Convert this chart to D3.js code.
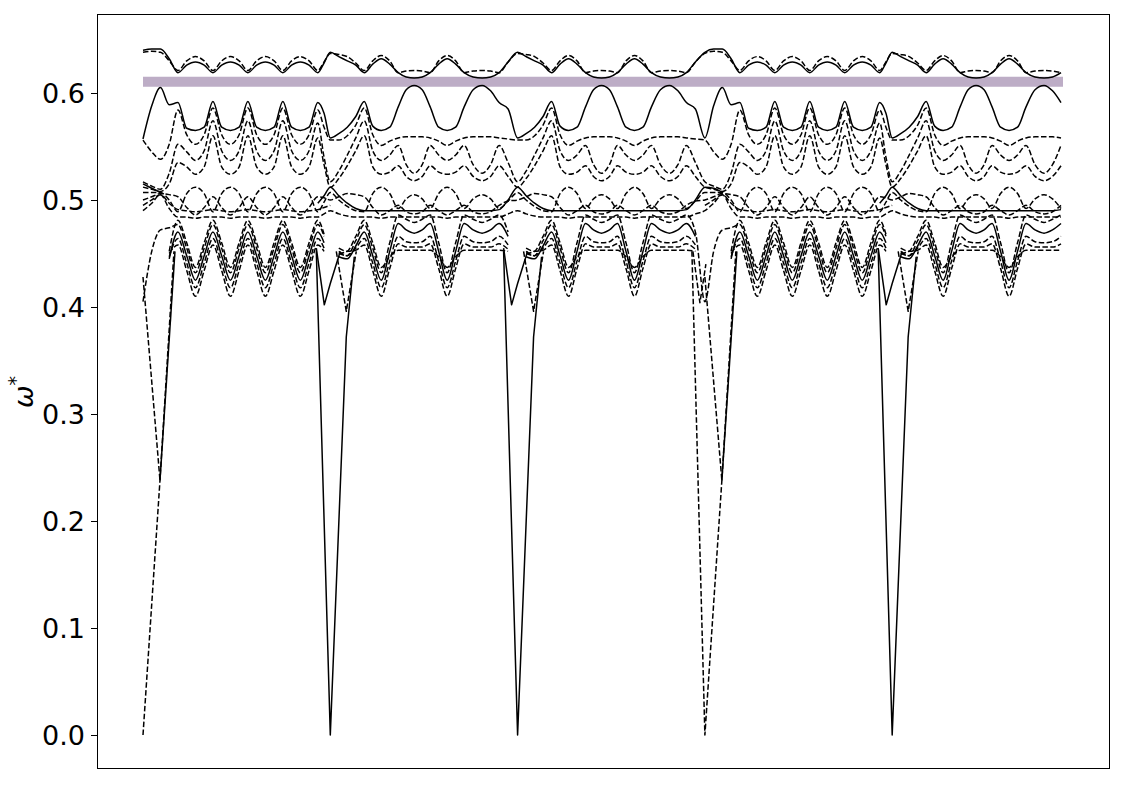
<!DOCTYPE html>
<html><head><meta charset="utf-8">
<script src="https://cdn.jsdelivr.net/npm/d3@7"></script>
<style>body{margin:0;background:#fff}</style>
</head><body><svg id="c" width="1125" height="785"></svg>
<script>
// ---- path layout: segments of the k-path (A-type / B-type), unlabeled x axis
const segTypes = ["A", "B", "B", "A", "B"];
const segLen = 187.5;
const pathLen = 921;
const offsetsA = [0, 8.75, 17.5, 26.25, 35, 43.75, 52.5, 61.25, 70, 78.75, 87.5, 96.25, 105, 113.75, 122.5, 131.25, 140, 148.75, 157.5, 166.25, 175, 181.25, 187.5];
const offsetsB = [0, 8.5, 17, 25.5, 34, 42.5, 51, 59.5, 68, 76, 84, 92, 100, 108.5, 117, 125.5, 134, 143, 152, 160.5, 169, 178, 187.5];
const yTicks = [0.0, 0.1, 0.2, 0.3, 0.4, 0.5, 0.6];
const gapLevel = 0.6105;

// ---- bands (omega* values at the nodes above)
const T1_A = [0.640,0.641,0.641,0.632,0.619,0.626,0.629,0.626,0.619,0.626,0.629,0.626,0.619,0.626,0.629,0.626,0.619,0.626,0.629,0.626,0.619,0.628,0.638];
const T1_B = [0.638,0.634,0.630,0.626,0.619,0.627,0.632,0.627,0.619,0.615,0.614,0.615,0.619,0.627,0.632,0.627,0.619,0.615,0.614,0.615,0.619,0.629,0.638];
const T2_A = [0.638,0.639,0.638,0.630,0.621,0.630,0.634,0.630,0.621,0.630,0.634,0.630,0.621,0.630,0.634,0.630,0.621,0.630,0.634,0.630,0.621,0.629,0.637];
const T2_B = [0.637,0.636,0.634,0.628,0.621,0.630,0.635,0.630,0.619,0.6205,0.621,0.6205,0.619,0.630,0.635,0.630,0.619,0.6205,0.621,0.6205,0.619,0.629,0.637];
const S1_A = [0.557,0.588,0.605,0.589,0.591,0.567,0.565,0.568,0.592,0.568,0.565,0.568,0.592,0.568,0.565,0.568,0.592,0.568,0.565,0.568,0.591,0.581,0.558];
const S1_B = [0.558,0.562,0.568,0.578,0.592,0.569,0.565,0.568,0.587,0.603,0.607,0.603,0.587,0.568,0.565,0.568,0.587,0.603,0.607,0.602,0.591,0.585,0.558];
const U1_A = [0.556,0.545,0.538,0.552,0.584,0.561,0.552,0.561,0.586,0.561,0.552,0.561,0.586,0.561,0.552,0.561,0.586,0.561,0.552,0.561,0.584,0.568,0.556];
const U1_B = [0.556,0.556,0.560,0.570,0.586,0.561,0.551,0.555,0.558,0.559,0.559,0.559,0.558,0.555,0.551,0.555,0.558,0.559,0.559,0.559,0.558,0.557,0.556];
const U2_A = [0.517,0.513,0.510,0.525,0.552,0.545,0.537,0.546,0.574,0.546,0.537,0.546,0.574,0.546,0.537,0.546,0.574,0.546,0.537,0.546,0.572,0.540,0.517];
const U2_B = [0.517,0.527,0.542,0.558,0.574,0.546,0.537,0.542,0.551,0.533,0.525,0.533,0.551,0.542,0.537,0.542,0.551,0.533,0.525,0.533,0.551,0.535,0.517];
const U3_A = [0.512,0.510,0.508,0.515,0.535,0.531,0.524,0.531,0.560,0.531,0.524,0.531,0.560,0.531,0.524,0.531,0.560,0.531,0.524,0.531,0.558,0.533,0.512];
const U3_B = [0.512,0.520,0.532,0.546,0.560,0.531,0.524,0.526,0.532,0.522,0.518,0.522,0.532,0.526,0.524,0.526,0.532,0.522,0.518,0.522,0.532,0.522,0.512];
const N1_A = [0.507,0.507,0.507,0.500,0.489,0.506,0.512,0.506,0.489,0.506,0.512,0.506,0.489,0.506,0.512,0.506,0.489,0.506,0.512,0.506,0.489,0.498,0.507];
const N1_B = [0.507,0.500,0.494,0.490,0.489,0.506,0.512,0.506,0.492,0.501,0.505,0.501,0.492,0.506,0.512,0.506,0.492,0.501,0.505,0.501,0.492,0.499,0.507];
const N2_A = [0.500,0.503,0.506,0.505,0.503,0.493,0.486,0.493,0.503,0.493,0.486,0.493,0.503,0.493,0.486,0.493,0.503,0.493,0.486,0.493,0.503,0.502,0.500];
const N2_B = [0.500,0.503,0.506,0.505,0.503,0.493,0.486,0.490,0.495,0.489,0.487,0.489,0.495,0.490,0.486,0.490,0.495,0.489,0.487,0.489,0.495,0.499,0.500];
const H1_A = [0.495,0.500,0.505,0.497,0.491,0.490,0.489,0.490,0.491,0.490,0.489,0.490,0.491,0.490,0.489,0.490,0.491,0.490,0.489,0.490,0.491,0.493,0.495];
const H2_A = [0.490,0.497,0.505,0.492,0.484,0.484,0.483,0.484,0.484,0.484,0.483,0.484,0.484,0.484,0.483,0.484,0.484,0.484,0.483,0.484,0.484,0.487,0.490];
const H2_B = [0.490,0.487,0.485,0.484,0.484,0.484,0.483,0.484,0.484,0.484,0.484,0.484,0.484,0.484,0.483,0.484,0.484,0.484,0.484,0.484,0.484,0.487,0.490];
const S2_A = [0.515,0.511,0.507,null,null,null,null,null,null,null,null,null,null,null,null,null,null,null,null,null,0.497,0.504,0.512];
const S2_B = [0.512,0.504,0.497,0.492,0.490,0.490,0.490,0.490,0.490,0.490,0.490,0.490,0.490,0.490,0.490,0.490,0.490,0.490,0.490,0.490,0.491,0.500,0.512];
const W1_A = [0.405,0.452,0.472,0.474,0.477,0.455,0.432,0.455,0.477,0.455,0.432,0.455,0.477,0.455,0.432,0.455,0.477,0.455,0.432,0.455,0.477,0.466,null];
const W1_B = [null,0.452,0.448,0.462,0.477,0.455,0.432,0.460,0.486,0.482,0.479,0.482,0.486,0.460,0.432,0.460,0.486,0.482,0.479,0.482,0.486,0.470,null];
const W2_A = [null,null,null,0.445,0.470,0.448,0.425,0.448,0.470,0.448,0.425,0.448,0.470,0.448,0.425,0.448,0.470,0.448,0.425,0.448,0.470,0.460,null];
const W2_B = [null,0.447,0.445,0.457,0.470,0.448,0.425,0.452,0.478,0.472,0.469,0.472,0.478,0.452,0.425,0.452,0.478,0.472,0.469,0.472,0.478,0.466,null];
const W3_A = [null,null,null,0.447,0.464,0.441,0.418,0.441,0.464,0.441,0.418,0.441,0.464,0.441,0.418,0.441,0.464,0.441,0.418,0.441,0.464,0.455,null];
const W3_B = [null,0.450,0.448,0.455,0.464,0.441,0.418,0.443,0.466,0.461,0.460,0.461,0.466,0.443,0.418,0.443,0.466,0.461,0.460,0.461,0.466,0.458,null];
const W4_A = [null,null,null,0.450,0.458,0.434,0.410,0.434,0.458,0.434,0.410,0.434,0.458,0.434,0.410,0.434,0.458,0.434,0.410,0.434,0.458,0.452,null];
const W4_B = [null,0.455,0.452,0.453,0.458,0.434,0.410,0.436,0.459,0.456,0.456,0.456,0.459,0.436,0.410,0.436,0.459,0.456,0.456,0.456,0.459,0.454,null];
const W5_A = [null,null,null,0.452,0.481,0.460,0.437,0.460,0.481,0.460,0.437,0.460,0.481,0.460,0.437,0.460,0.481,0.460,0.437,0.460,0.481,0.468,null];
const W5_B = [null,0.450,0.452,0.466,0.481,0.460,0.437,0.447,0.453,0.453,0.453,0.453,0.453,0.447,0.437,0.447,0.453,0.453,0.453,0.453,0.453,0.452,null];

const bands = [
  {A: T2_A, B: T2_B, dashed: true},
  {A: T1_A, B: T1_B, dashed: false},
  {A: U1_A, B: U1_B, dashed: true},
  {A: U2_A, B: U2_B, dashed: true},
  {A: U3_A, B: U3_B, dashed: true},
  {A: N1_A, B: N1_B, dashed: true},
  {A: N2_A, B: N2_B, dashed: true},
  {A: H1_A, B: null, dashed: true},
  {A: H2_A, B: H2_B, dashed: true},
  {A: W1_A, B: W1_B, dashed: true},
  {A: W3_A, B: W3_B, dashed: true},
  {A: W4_A, B: W4_B, dashed: true},
  {A: W5_A, B: W5_B, dashed: true},
  {A: S1_A, B: S1_B, dashed: false},
  {A: S2_A, B: S2_B, dashed: false},
  {A: W2_A, B: W2_B, dashed: false}
];

// ---- sharp dips at the path junctions (offset from junction, value)
const dipsToB = [
  {off: [-14, 0, 16, 24], val: [0.452, 0.0, 0.372, 0.447], dashed: false},
  {off: [-14, -6, 0, 10], val: [0.455, 0.402, 0.422, 0.452], dashed: false},
  {off: [6, 16, 26], val: [0.452, 0.396, 0.452], dashed: true}
];
const dipsToA = [
  {off: [-13, 0, 17, 31], val: [0.452, 0.0, 0.238, 0.452], dashed: true},
  {off: [0, 17], val: [0.428, 0.238], dashed: true},
  {off: [17, 32], val: [0.238, 0.452], dashed: false},
  {off: [-12, -5, 1], val: [0.452, 0.404, 0.44], dashed: true}
];

// ---- drawing
const svg = d3.select("#c");
const L = 97, R = 1109, T = 14, B = 768;
const x = d3.scaleLinear().domain([-0.05 * pathLen, 1.05 * pathLen]).range([L, R]);
const y = d3.scaleLinear().domain([-0.0308, 0.6738]).range([B, T]);

const g = svg.append("g");
g.append("defs").append("clipPath").attr("id", "clip")
  .append("rect").attr("x", L).attr("y", T).attr("width", R - L).attr("height", B - T);
const plot = g.append("g").attr("clip-path", "url(#clip)");

// gap band
plot.append("line")
  .attr("x1", x(0)).attr("x2", x(pathLen))
  .attr("y1", y(gapLevel)).attr("y2", y(gapLevel))
  .attr("stroke", "#bdadc6").attr("stroke-width", 10);

const smooth = d3.line().defined(d => d.y != null).x(d => x(d.x)).y(d => y(d.y)).curve(d3.curveMonotoneX);
const straight = d3.line().x(d => x(d.x)).y(d => y(d.y));

function bandPoints(band) {
  const pts = [];
  segTypes.forEach((t, i) => {
    const offs = t === "A" ? offsetsA : offsetsB;
    const vals = band[t];
    offs.forEach((o, j) => {
      const xv = i * segLen + o;
      if (xv > pathLen + 0.5) return;
      const v = vals ? vals[j] : null;
      const last = pts[pts.length - 1];
      if (last && Math.abs(last.x - xv) < 1e-9) {
        if (last.y == null) last.y = v;
        return;
      }
      pts.push({x: xv, y: v});
    });
  });
  return pts;
}

function styleLine(sel, dashed) {
  sel.attr("fill", "none").attr("stroke", "#000").attr("stroke-width", 1.5)
    .attr("stroke-linejoin", "round");
  if (dashed) sel.attr("stroke-dasharray", "5.5,2.4");
}

bands.forEach(b => {
  styleLine(plot.append("path").attr("d", smooth(bandPoints(b))), b.dashed);
});

segTypes.forEach((t, i) => {
  const jx = i * segLen;
  const list = t === "A" ? dipsToA : dipsToB;
  list.forEach(dp => {
    const pts = dp.off.map((o, k) => ({x: jx + o, y: dp.val[k]})).filter(p => p.x >= 0 && p.x <= pathLen);
    if (pts.length > 1) styleLine(plot.append("path").attr("d", straight(pts)), dp.dashed);
  });
});

// frame
g.append("rect").attr("x", L + 0.5).attr("y", T + 0.5).attr("width", R - L).attr("height", B - T)
  .attr("fill", "none").attr("stroke", "#000").attr("stroke-width", 1);

// y axis ticks
const yAxis = g.append("g");
yTicks.forEach(t => {
  const yy = Math.round(y(t)) + 0.5;
  yAxis.append("line").attr("x1", L - 6).attr("x2", L).attr("y1", yy).attr("y2", yy)
    .attr("stroke", "#000").attr("stroke-width", 1);
  yAxis.append("text").attr("x", L - 12).attr("y", yy).attr("dy", "0.36em")
    .attr("text-anchor", "end").attr("font-family", "DejaVu Sans, sans-serif")
    .attr("font-size", 27).attr("fill", "#000").text(d3.format(".1f")(t));
});

// y label
const lab = g.append("text").attr("transform", "translate(33,392) rotate(-90)")
  .attr("text-anchor", "middle").attr("font-family", "DejaVu Sans, sans-serif")
  .attr("font-size", 27).attr("fill", "#000");
lab.append("tspan").attr("font-style", "italic").text("ω");
lab.append("tspan").attr("dy", -11).attr("font-size", 19).text("*");
</script></body></html>
